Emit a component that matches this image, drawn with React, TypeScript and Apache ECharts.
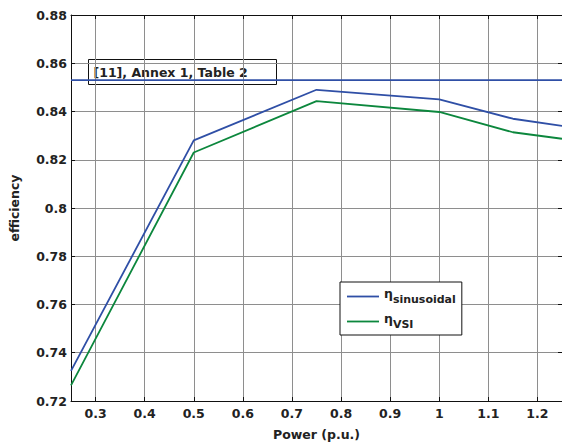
import React, { useEffect, useRef } from "react";
import * as echarts from "echarts";

// Inverter efficiency versus output power
const power = [0.25, 0.5, 0.75, 1.0, 1.15, 1.25];
const etaSinusoidal = [0.7325, 0.828, 0.849, 0.845, 0.837, 0.834];
const etaVsi = [0.7265, 0.823, 0.8443, 0.8398, 0.8314, 0.8287];
const referenceEta = 0.853;
const referenceSpan = [0.25, 1.25];
const xTicks = [0.3, 0.4, 0.5, 0.6, 0.7, 0.8, 0.9, 1, 1.1, 1.2];
const referenceNote = "[11], Annex 1, Table 2";

const BLUE = "#2f4fa6";
const GREEN = "#0c873d";
const FONT = "'DejaVu Sans', Verdana, sans-serif";
const FS = 12.5;
const LW = 1.8;
const LABEL = { color: "#222", fontWeight: "bold" as const, fontSize: FS, fontFamily: FONT };

export default function App() {
  const ref = useRef<HTMLDivElement>(null);

  useEffect(() => {
    document.body.style.margin = "0";
    const chart = echarts.init(ref.current!, null, { renderer: "svg" });

    const axisLine = { show: true, onZero: false, lineStyle: { color: "#111", width: 1 } };
    const tick = { show: true, inside: true, length: 4, lineStyle: { color: "#111" } };

    chart.setOption({
      animation: false,
      backgroundColor: "#fff",
      grid: { left: 65, top: 15, right: 0, bottom: 37, containLabel: false },
      xAxis: [
        {
          type: "value",
          min: 0.25,
          max: 1.25,
          name: "Power (p.u.)",
          nameLocation: "middle",
          nameGap: 27,
          nameTextStyle: { ...LABEL },
          axisLine,
          axisTick: { ...tick, customValues: xTicks },
          axisLabel: { ...LABEL, margin: 6, customValues: xTicks },
          splitLine: { show: true, lineStyle: { color: "#8e8e8e", width: 1 } },
        },
        {
          type: "value",
          position: "top",
          min: 0.25,
          max: 1.25,
          axisLine,
          axisTick: { ...tick, customValues: xTicks },
          axisLabel: { show: false },
          splitLine: { show: false },
        },
      ],
      yAxis: [
        {
          type: "value",
          min: 0.72,
          max: 0.88,
          interval: 0.02,
          name: "efficiency",
          nameLocation: "middle",
          nameGap: 50,
          nameRotate: 90,
          nameTextStyle: { ...LABEL },
          axisLine,
          axisTick: tick,
          axisLabel: { ...LABEL, margin: 4, formatter: (v: number) => String(+v.toFixed(2)) },
          splitLine: { show: true, lineStyle: { color: "#8e8e8e", width: 1 } },
        },
        {
          type: "value",
          position: "right",
          min: 0.72,
          max: 0.88,
          interval: 0.02,
          axisLine,
          axisTick: tick,
          axisLabel: { show: false },
          splitLine: { show: false },
        },
      ],
      legend: {
        left: 340,
        top: 282,
        orient: "vertical",
        data: ["sinusoidal", "VSI"],
        icon: "rect",
        itemWidth: 32,
        itemHeight: LW,
        itemGap: 7,
        padding: [5, 6, 5, 7],
        borderColor: "#111",
        borderWidth: 1,
        backgroundColor: "#fff",
        formatter: (name: string) => `{eta|η}{sub|${name}}`,
        textStyle: {
          fontFamily: FONT,
          color: "#222",
          rich: {
            eta: { fontSize: 12.5, fontWeight: "bold", fontFamily: FONT, color: "#222", padding: [0, 0, 6, 0] },
            sub: { fontSize: 11, fontWeight: "bold", fontFamily: FONT, color: "#222", padding: [6, 0, 0, 0] },
          },
        },
      },
      graphic: [
        {
          type: "group",
          left: 86,
          top: 57,
          children: [
            {
              type: "rect",
              shape: { x: 0, y: 0, width: 188, height: 25 },
              style: { fill: "none", stroke: "#111", lineWidth: 1 },
            },
            {
              type: "text",
              x: 5,
              y: 12.5,
              style: {
                text: referenceNote,
                font: `bold ${FS}px ${FONT}`,
                fill: "#222",
                verticalAlign: "middle",
              },
            },
          ],
        },
      ],
      series: [
        {
          name: "reference",
          type: "line",
          symbol: "none",
          data: referenceSpan.map((x) => [x, referenceEta]),
          lineStyle: { color: BLUE, width: LW },
          itemStyle: { color: BLUE },
          z: 1,
        },
        {
          name: "sinusoidal",
          type: "line",
          symbol: "none",
          data: power.map((x, i) => [x, etaSinusoidal[i]]),
          lineStyle: { color: BLUE, width: LW },
          itemStyle: { color: BLUE },
          z: 3,
        },
        {
          name: "VSI",
          type: "line",
          symbol: "none",
          data: power.map((x, i) => [x, etaVsi[i]]),
          lineStyle: { color: GREEN, width: LW },
          itemStyle: { color: GREEN },
          z: 2,
        },
      ],
    });

    return () => chart.dispose();
  }, []);

  return <div ref={ref} style={{ width: 562, height: 446 }} />;
}
